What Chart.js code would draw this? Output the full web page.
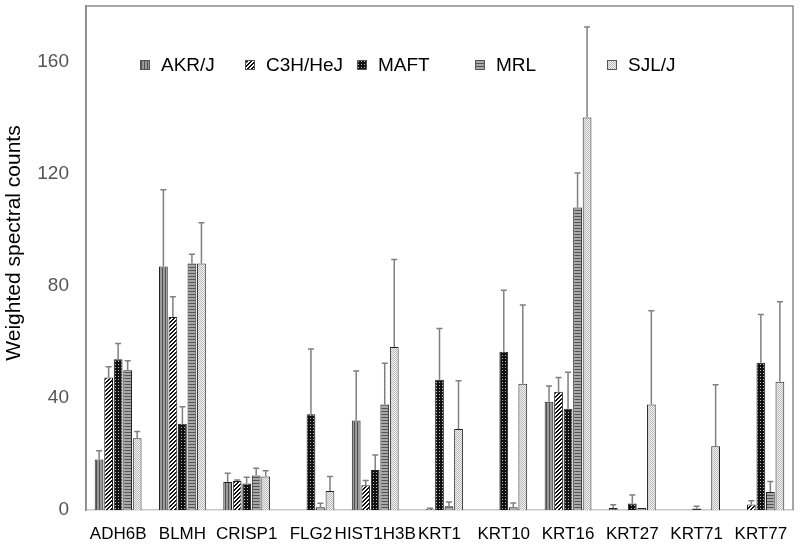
<!DOCTYPE html>
<html>
<head>
<meta charset="utf-8">
<script src="https://cdn.jsdelivr.net/npm/chart.js@4"></script>
<style>
  html, body { margin: 0; padding: 0; background: #fff; }
  #wrap { width: 800px; height: 546px; }
</style>
</head>
<body>
<div id="wrap"><canvas id="myChart" width="800" height="546"></canvas></div>
<script>
// categorias y valores
var genes = ['ADH6B', 'BLMH', 'CRISP1', 'FLG2', 'HIST1H3B', 'KRT1', 'KRT10', 'KRT16', 'KRT27', 'KRT71', 'KRT77'];
var strains = ['AKR/J', 'C3H/HeJ', 'MAFT', 'MRL', 'SJL/J'];

var akr  = [18, 87, 10, 0, 32, 0, 0, 38.7, 0.7, 0, 0];
var c3h  = [47.3, 68.9, 10.4, 0, 8.8, 0.3, 0, 42.2, 0, 0, 2.0];
var maft = [53.8, 30.8, 9.5, 34.2, 14.3, 46.5, 56.5, 36.2, 2.3, 0.5, 52.6];
var mrl  = [49.9, 88, 12.3, 1.0, 37.7, 1.3, 1.0, 108, 0.7, 0, 6.4];
var sjl  = [25.6, 88, 12, 6.8, 58.2, 28.9, 45.1, 140.2, 37.7, 22.8, 45.8];

// desviaciones (solo hacia arriba)
var akrSd  = [3.2, 27.4, 3.1, 0, 17.6, 0, 0, 5.6, 1.2, 0, 0];
var c3hSd  = [3.9, 7.3, 0.3, 0, 1.7, 0.3, 0, 5.1, 0, 0, 1.3];
var maftSd = [5.7, 6.1, 2.2, 23.3, 5.3, 18.3, 22, 13, 3.1, 0.8, 17.2];
var mrlSd  = [3.4, 3.3, 2.6, 1.4, 14.7, 1.6, 1.5, 12.4, 0, 0, 3.8];
var sjlSd  = [2.4, 14.6, 2, 5.2, 31.3, 17.3, 28.1, 32.3, 33.5, 21.9, 28.6];

var yTicks = [0, 40, 80, 120, 160];
var yTitle = 'Weighted spectral counts';
var FONT = '"Liberation Sans", Arial, sans-serif';

// patrones tipo excel en blanco y negro
function makePattern(kind) {
    var c = document.createElement('canvas');
    var x = c.getContext('2d');
    if (kind === 'vert') {
        c.width = 3; c.height = 3;
        x.fillStyle = '#9a9a9a'; x.fillRect(0, 0, 3, 3);
        x.fillStyle = '#505050'; x.fillRect(0, 0, 1, 3);
    } else if (kind === 'diag') {
        c.width = 4; c.height = 4;
        x.fillStyle = '#fff'; x.fillRect(0, 0, 4, 4);
        x.fillStyle = '#111';
        for (var i = 0; i < 4; i++) { x.fillRect(i, 3 - i, 1, 1); x.fillRect((i + 1) % 4, 3 - i, 1, 1); }
    } else if (kind === 'dots') {
        c.width = 3; c.height = 3;
        x.fillStyle = '#111'; x.fillRect(0, 0, 3, 3);
        x.fillStyle = '#bbb'; x.fillRect(1, 1, 1, 1);
    } else if (kind === 'horiz') {
        c.width = 3; c.height = 3;
        x.fillStyle = '#a8a8a8'; x.fillRect(0, 0, 3, 3);
        x.fillStyle = '#555'; x.fillRect(0, 0, 3, 1);
    } else {
        c.width = 2; c.height = 2;
        x.fillStyle = '#f4f4f4'; x.fillRect(0, 0, 2, 2);
        x.fillStyle = '#b8b8b8'; x.fillRect(0, 0, 1, 1); x.fillRect(1, 1, 1, 1);
    }
    return x.createPattern(c, 'repeat');
}

var ctx = document.getElementById('myChart').getContext('2d');
var fills = [makePattern('vert'), makePattern('diag'), makePattern('dots'), makePattern('horiz'), makePattern('light')];
var values = [akr, c3h, maft, mrl, sjl];
var sds = [akrSd, c3hSd, maftSd, mrlSd, sjlSd];

var datasets = strains.map(function(s, i) {
    return {
        label: s,
        data: values[i],
        sd: sds[i],
        backgroundColor: fills[i],
        borderColor: '#222',
        borderWidth: 1,
        categoryPercentage: 0.74,
        barPercentage: 0.92
    };
});

// barras de error y marco
var errorBars = {
    id: 'errorBars',
    afterDatasetsDraw: function(chart) {
        var c = chart.ctx, y = chart.scales.y;
        c.save();
        c.strokeStyle = '#808080';
        c.lineWidth = 1.5;
        chart.data.datasets.forEach(function(ds, i) {
            var meta = chart.getDatasetMeta(i);
            meta.data.forEach(function(bar, j) {
                if (!ds.sd[j]) return;
                var top = y.getPixelForValue(ds.data[j] + ds.sd[j]);
                var base = y.getPixelForValue(ds.data[j]);
                c.beginPath();
                c.moveTo(bar.x, base);
                c.lineTo(bar.x, top);
                c.moveTo(bar.x - 3, top);
                c.lineTo(bar.x + 3, top);
                c.stroke();
            });
        });
        var a = chart.chartArea;
        c.strokeStyle = '#8a8a8a';
        c.lineWidth = 1.5;
        c.beginPath();
        c.moveTo(a.left, a.bottom);
        c.lineTo(a.left, a.top);
        c.lineTo(a.right, a.top);
        c.lineTo(a.right, a.bottom);
        c.stroke();
        c.restore();
    }
};

// leyenda dentro del area y titulo del eje y
var legendOffsets = [54, 159, 271, 389, 521];
var insideLegend = {
    id: 'insideLegend',
    afterDraw: function(chart) {
        var c = chart.ctx, a = chart.chartArea;
        c.save();
        c.font = '19px ' + FONT;
        c.textBaseline = 'middle';
        strains.forEach(function(s, i) {
            var x = a.left + legendOffsets[i], y = 65;
            c.fillStyle = fills[i];
            c.fillRect(x, y - 5, 10, 10);
            c.strokeStyle = '#555';
            c.lineWidth = 1;
            c.strokeRect(x + 0.5, y - 4.5, 9, 9);
            c.fillStyle = '#000';
            c.fillText(s, x + 21, y + 1);
        });
        // titulo vertical
        c.translate(14, 243);
        c.rotate(-Math.PI / 2);
        c.textAlign = 'center';
        c.font = '21px ' + FONT;
        c.fillStyle = '#000';
        c.fillText(yTitle, 0, 0);
        c.restore();
    }
};

var chart = new Chart(ctx, {
    type: 'bar',
    data: { labels: genes, datasets: datasets },
    plugins: [errorBars, insideLegend],
    options: {
        responsive: false,
        animation: false,
        layout: { padding: { top: 6, right: 7, left: 0, bottom: 0 } },
        plugins: { legend: { display: false }, tooltip: { enabled: false } },
        scales: {
            x: {
                grid: { display: false },
                border: { color: '#c8c8c8', width: 1.5 },
                ticks: { color: '#000', font: { size: 17, family: FONT }, padding: 6, maxRotation: 0, autoSkip: false },
                afterFit: function(s) { s.height = 36; s.paddingLeft = 0; s.paddingRight = 0; }
            },
            y: {
                min: 0,
                max: 180,
                grid: { display: false, drawTicks: false },
                border: { color: '#8a8a8a', width: 1.5 },
                afterBuildTicks: function(s) { s.ticks = yTicks.map(function(v) { return { value: v }; }); },
                ticks: { color: '#555', font: { size: 19, family: FONT }, padding: 17 },
                afterFit: function(s) { s.width = 86; s.paddingTop = 0; s.paddingBottom = 0; }
            }
        }
    }
});
</script>
</body>
</html>
